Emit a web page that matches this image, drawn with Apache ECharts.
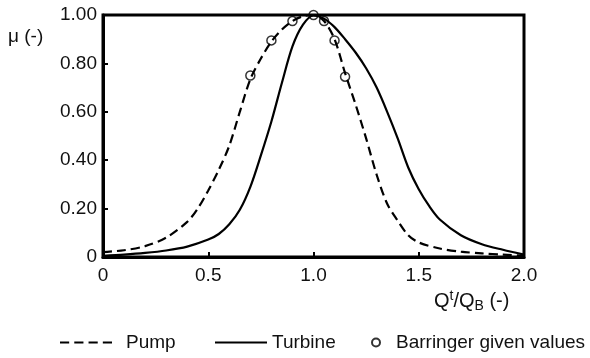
<!DOCTYPE html>
<html>
<head>
<meta charset="utf-8">
<script src="https://cdn.jsdelivr.net/npm/echarts@6/dist/echarts.min.js"></script>
<style>
html,body{margin:0;padding:0;background:#fff;}
#chart{width:590px;height:358px;}
</style>
</head>
<body>
<div id="chart"></div>
<script>
var pumpX = [0,0.1,0.2,0.3,0.4,0.45,0.5,0.55,0.6,0.65,0.7,0.75,0.8,0.85,0.9,0.95,1.0,1.05,1.1,1.15,1.2,1.25,1.3,1.35,1.4,1.45,1.5,1.6,1.7,1.8,1.9,2.0];
var pumpY = [0.02,0.028,0.045,0.08,0.145,0.2,0.275,0.36,0.46,0.6,0.735,0.82,0.89,0.94,0.975,0.995,1.0,0.975,0.9,0.76,0.63,0.49,0.34,0.22,0.15,0.09,0.06,0.035,0.022,0.015,0.01,0.005];
var turbX = [0,0.1,0.2,0.3,0.4,0.5,0.55,0.6,0.65,0.7,0.75,0.8,0.85,0.9,0.95,1.0,1.05,1.1,1.15,1.2,1.25,1.3,1.35,1.4,1.45,1.5,1.55,1.6,1.7,1.8,1.9,2.0];
var turbY = [0.005,0.01,0.017,0.027,0.043,0.072,0.095,0.135,0.195,0.29,0.42,0.56,0.72,0.87,0.96,0.998,0.985,0.95,0.9,0.845,0.78,0.7,0.6,0.49,0.37,0.28,0.21,0.155,0.09,0.053,0.03,0.01];
var barrX = [0.7,0.8,0.9,1.0,1.05,1.1,1.15];
var barrY = [0.75,0.895,0.975,1.0,0.975,0.895,0.745];
var seriesNames = ['Pump','Turbine','Barringer given values'];
var yAxisTitle = 'μ (-)';

function zip(a,b){ return a.map(function(v,i){ return [v,b[i]]; }); }

var FONT = 'Liberation Sans, Arial, Helvetica, sans-serif';
var DASH_ICON = 'path://M0,0H9V2H0Z M14,0H23V2H14Z M28,0H37V2H28Z M42,0H51V2H42Z';
var LINE_ICON = 'path://M0,0H52V2H0Z';
var chart = echarts.init(document.getElementById('chart'));
var option = {
  animation: false,
  backgroundColor: '#fff',
  textStyle: { fontFamily: FONT, color: '#111' },
  grid: { left: 103, right: 66, top: 15, bottom: 101, show: true, borderColor: '#000', borderWidth: 3, backgroundColor: 'transparent' },
  xAxis: {
    type: 'value', min: 0, max: 2, interval: 0.5,
    axisLine: { show: true, lineStyle: { color: '#000', width: 3 } },
    axisTick: { show: true, inside: true, length: 5, lineStyle: { color: '#000', width: 2 } },
    splitLine: { show: false },
    axisLabel: { fontSize: 19, color: '#111', fontFamily: FONT, margin: 9,
      formatter: function(v){ return v === 0 ? '0' : v.toFixed(1); } }
  },
  yAxis: {
    type: 'value', min: 0, max: 1, interval: 0.2,
    axisLine: { show: true, lineStyle: { color: '#000', width: 3 } },
    axisTick: { show: true, inside: true, length: 5, lineStyle: { color: '#000', width: 2 } },
    splitLine: { show: false },
    axisLabel: { fontSize: 19, color: '#111', fontFamily: FONT, margin: 6,
      formatter: function(v){ return v === 0 ? '0' : v.toFixed(2); } }
  },
  legend: [
    { left: 60, top: 333, padding: 0, itemWidth: 52, itemHeight: 2.4,
      data: [{ name: seriesNames[0], icon: DASH_ICON, itemStyle: { color: '#000', borderWidth: 0 } }],
      textStyle: { fontSize: 19, color: '#111', fontFamily: FONT, padding: [0,0,0,9] } },
    { left: 215, top: 333, padding: 0, itemWidth: 52, itemHeight: 2.4,
      data: [{ name: seriesNames[1], icon: LINE_ICON, itemStyle: { color: '#000', borderWidth: 0 } }],
      textStyle: { fontSize: 19, color: '#111', fontFamily: FONT } },
    { left: 371, top: 333, padding: 0, itemWidth: 8, itemHeight: 8,
      data: [{ name: seriesNames[2], icon: 'circle', itemStyle: { color: '#fff', borderColor: '#000', borderWidth: 2 } }],
      textStyle: { fontSize: 19, color: '#111', fontFamily: FONT, padding: [0,0,0,11] } }
  ],
  graphic: [
    { type: 'text', left: 8, top: 27, style: { text: yAxisTitle, fontSize: 19, fill: '#111', fontFamily: FONT } },
    { type: 'text', left: 434, top: 289, style: {
      text: '{n|Q}{sup|t}{n|/Q}{sub|B}{n| (-)}',
      fontFamily: FONT,
      rich: {
        n: { fontSize: 20, fill: '#111', fontFamily: FONT, lineHeight: 27, verticalAlign: 'middle' },
        sup: { fontSize: 14, fill: '#111', fontFamily: FONT, padding: [0,0,10,0], verticalAlign: 'middle' },
        sub: { fontSize: 14, fill: '#111', fontFamily: FONT, padding: [10,0,0,0], verticalAlign: 'middle' }
      } } }
  ],
  series: [
    { name: seriesNames[0], type: 'line', data: zip(pumpX, pumpY), smooth: 0.3, symbol: 'none',
      lineStyle: { color: '#000', width: 2.2, type: [9,5] }, itemStyle: { color: '#000' }, z: 3 },
    { name: seriesNames[1], type: 'line', data: zip(turbX, turbY), smooth: 0.3, symbol: 'none',
      lineStyle: { color: '#000', width: 2.2, type: 'solid' }, itemStyle: { color: '#000' }, z: 3 },
    { name: seriesNames[2], type: 'scatter', data: zip(barrX, barrY), symbol: 'circle', symbolSize: 9,
      itemStyle: { color: 'rgba(255,255,255,0)', borderColor: '#000', borderWidth: 1.5 }, z: 4 }
  ]
};
chart.setOption(option);
</script>
</body>
</html>
